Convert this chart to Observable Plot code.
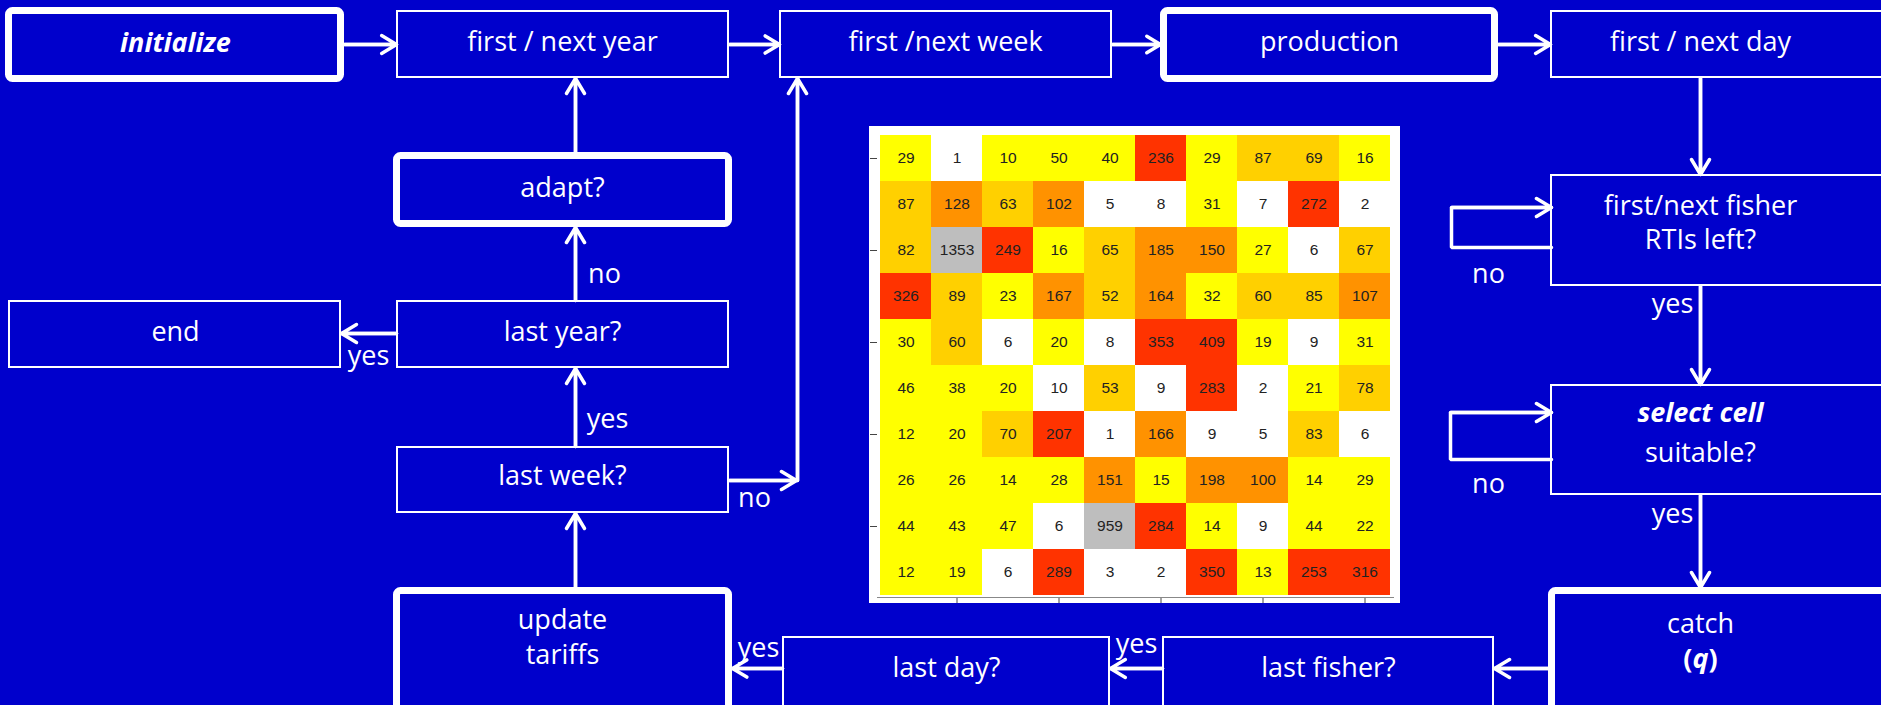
<!DOCTYPE html>
<html><head><meta charset="utf-8">
<script src="https://cdn.jsdelivr.net/npm/d3@7"></script>
<script src="https://cdn.jsdelivr.net/npm/@observablehq/plot@0.6"></script>
<style>
html,body{margin:0;padding:0;background:#0000CC;}
#wrap{position:relative;width:1881px;height:705px;overflow:hidden;background:#0000CC;}
#wrap > svg, #wrap > figure{position:absolute;margin:0;}
</style></head><body><div id="wrap"></div>
<script>
const W = 1881, H = 705;

// ---------- heatmap data (rows top to bottom) ----------
const gridValues = [
  [29, 1, 10, 50, 40, 236, 29, 87, 69, 16],
  [87, 128, 63, 102, 5, 8, 31, 7, 272, 2],
  [82, 1353, 249, 16, 65, 185, 150, 27, 6, 67],
  [326, 89, 23, 167, 52, 164, 32, 60, 85, 107],
  [30, 60, 6, 20, 8, 353, 409, 19, 9, 31],
  [46, 38, 20, 10, 53, 9, 283, 2, 21, 78],
  [12, 20, 70, 207, 1, 166, 9, 5, 83, 6],
  [26, 26, 14, 28, 151, 15, 198, 100, 14, 29],
  [44, 43, 47, 6, 959, 284, 14, 9, 44, 22],
  [12, 19, 6, 289, 3, 2, 350, 13, 253, 316]
];
// colour class of each cell
const gridBins = [
  "YWYYYRYGGY",
  "GOGOWWYWRW",
  "GXRYGOOYWG",
  "RGYOGOYGGO",
  "YGWYWRRYWY",
  "YYYWGWRWYG",
  "YYGRWOWWGW",
  "YYYYOYOOYY",
  "YYYWXRYWYY",
  "YYWRWWRYRR"
];
const binOrder = ["W", "Y", "G", "O", "R", "X"];
const binColors = ["#FFFFFF", "#FFFF00", "#FFD000", "#FF9200", "#FF3300", "#BEBEBE"];
const xTickCols = [2, 4, 6, 8, 10];
const yTickRows = [1, 3, 5, 7, 9];

// ---------- flowchart ----------
const nodes = [
  {lines: [{t: "initialize", bi: true}], x1: 5, x2: 344, y1: 7, y2: 82, thick: true, cx: 175, cy: [43]},
  {lines: [{t: "first / next year"}], x1: 396, x2: 729, y1: 10, y2: 78, cx: 562, cy: [42]},
  {lines: [{t: "first /next week"}], x1: 779, x2: 1112, y1: 10, y2: 78, cx: 945, cy: [42]},
  {lines: [{t: "production"}], x1: 1160, x2: 1498, y1: 7, y2: 82, thick: true, cx: 1329, cy: [42]},
  {lines: [{t: "first / next day"}], x1: 1550, x2: 1900, y1: 10, y2: 78, cx: 1700, cy: [42]},
  {lines: [{t: "adapt?"}], x1: 393, x2: 732, y1: 152, y2: 227, thick: true, cx: 562, cy: [188]},
  {lines: [{t: "end"}], x1: 8, x2: 341, y1: 300, y2: 368, cx: 175, cy: [332]},
  {lines: [{t: "last year?"}], x1: 396, x2: 729, y1: 300, y2: 368, cx: 562, cy: [332]},
  {lines: [{t: "last week?"}], x1: 396, x2: 729, y1: 446, y2: 513, cx: 562, cy: [476]},
  {lines: [{t: "update"}, {t: "tariffs"}], x1: 393, x2: 732, y1: 587, y2: 730, thick: true, cx: 562, cy: [620, 655]},
  {lines: [{t: "last day?"}], x1: 782, x2: 1110, y1: 636, y2: 730, cx: 946, cy: [668]},
  {lines: [{t: "last fisher?"}], x1: 1162, x2: 1494, y1: 636, y2: 730, cx: 1328, cy: [668]},
  {lines: [{t: "catch"}, {t: "(q)"}], x1: 1548, x2: 1900, y1: 587, y2: 730, thick: true, cx: 1700, cy: [624, 659]},
  {lines: [{t: "first/next fisher"}, {t: "RTIs left?"}], x1: 1550, x2: 1900, y1: 174, y2: 286, cx: 1700, cy: [206, 240]},
  {lines: [{t: "select cell", bi: true}, {t: "suitable?"}], x1: 1550, x2: 1900, y1: 384, y2: 495, cx: 1700, cy: [413, 453]}
];

const edges = [
  [[344, 44], [396, 44]],
  [[729, 44], [779, 44]],
  [[1112, 44], [1160, 44]],
  [[1498, 44], [1550, 44]],
  [[1700, 78], [1700, 174]],
  [[1700, 286], [1700, 384]],
  [[1700, 495], [1700, 587]],
  [[1548, 668], [1494, 668]],
  [[1162, 668], [1110, 668]],
  [[782, 668], [732, 668]],
  [[575, 587], [575, 513]],
  [[575, 446], [575, 368]],
  [[575, 300], [575, 227]],
  [[575, 152], [575, 78]],
  [[396, 333], [341, 333]],
  [[729, 480], [796, 480]],
  [[797, 480], [797, 78]],
  [[1551, 247], [1451, 247], [1451, 207], [1551, 207]],
  [[1551, 459], [1450, 459], [1450, 412], [1551, 412]]
];

const edgeLabels = [
  {t: "no", x: 604, y: 274},
  {t: "yes", x: 368, y: 356},
  {t: "yes", x: 607, y: 419},
  {t: "no", x: 754, y: 498},
  {t: "no", x: 1488, y: 274},
  {t: "yes", x: 1672, y: 304},
  {t: "no", x: 1488, y: 484},
  {t: "yes", x: 1672, y: 514},
  {t: "yes", x: 758, y: 648},
  {t: "yes", x: 1136, y: 644}
];

// derived tables
const nodeLines = nodes.flatMap(n => n.lines.map((l, i) => ({t: l.t, bi: !!l.bi, x: n.cx, y: n.cy[i]})));
const edgePts = edges.flatMap((e, k) => e.map(p => ({k, x: p[0], y: p[1]})));
const edgeHeads = edges.map((e, k) => {
  const a = e[e.length - 2], b = e[e.length - 1];
  return {k, x1: a[0], y1: a[1], x2: b[0], y2: b[1]};
});

const FONT = "'Open Sans', 'Noto Sans', sans-serif";

const main = Plot.plot({
  width: W, height: H,
  margin: 0,
  x: {domain: [0, W], range: [0, W], axis: null},
  y: {domain: [0, H], range: [0, H], axis: null},
  style: {background: "#0000CC", fontFamily: FONT, color: "white", overflow: "hidden"},
  marks: [
    Plot.rect(nodes.filter(n => !n.thick), {x1: "x1", x2: "x2", y1: "y1", y2: "y2", fill: "none", stroke: "white", strokeWidth: 2, inset: 1}),
    Plot.rect(nodes.filter(n => n.thick), {x1: "x1", x2: "x2", y1: "y1", y2: "y2", fill: "none", stroke: "white", strokeWidth: 7, inset: 3.5, rx: 4}),
    Plot.line(edgePts, {x: "x", y: "y", z: "k", stroke: "white", strokeWidth: 3.5, strokeLinejoin: "miter", curve: "linear"}),
    Plot.arrow(edgeHeads, {x1: "x1", y1: "y1", x2: "x2", y2: "y2", stroke: "white", strokeWidth: 3.5, headLength: 7.5, headAngle: 62, strokeLinejoin: "miter"}),
    Plot.text(nodeLines.filter(d => !d.bi), {x: "x", y: "y", text: "t", fill: "white", fontSize: 27}),
    Plot.text(nodeLines.filter(d => d.bi), {x: "x", y: "y", text: "t", fill: "white", fontSize: 27, fontWeight: "bold", fontStyle: "italic"}),
    Plot.text(edgeLabels, {x: "x", y: "y", text: "t", fill: "white", fontSize: 27})
  ]
});
main.style.left = "0px"; main.style.top = "0px";
document.getElementById("wrap").appendChild(main);

// "(q)" : bold parentheses with bold italic q
d3.select(main).selectAll("text").each(function () {
  if (this.textContent === "(q)") {
    const s = d3.select(this);
    s.text(null).attr("font-weight", "bold");
    s.append("tspan").text("(");
    s.append("tspan").attr("font-style", "italic").text("q");
    s.append("tspan").text(")");
  }
});

// heatmap
const cells = gridValues.flatMap((row, r) => row.map((v, c) => ({row: r + 1, col: c + 1, v, bin: gridBins[r][c]})));
const heat = Plot.plot({
  width: 531, height: 477,
  marginLeft: 8, marginTop: 7, marginRight: 7, marginBottom: 6,
  style: {background: "white", fontFamily: "'Liberation Sans', Arial, sans-serif", color: "#444"},
  x: {type: "band", domain: d3.range(1, 11), padding: 0, axis: null},
  y: {type: "band", domain: d3.range(1, 11), padding: 0, axis: null},
  color: {type: "ordinal", domain: binOrder, range: binColors},
  marks: [
    Plot.cell(cells, {x: "col", y: "row", fill: "bin"}),
    Plot.text(cells, {x: "col", y: "row", text: d => String(d.v), fontSize: 15.5, fill: "#222"}),
    Plot.axisX(xTickCols, {anchor: "bottom", tickSize: 6, tickFormat: () => "", label: null, stroke: "#444"}),
    Plot.axisY(yTickRows, {anchor: "left", tickSize: 7, tickFormat: () => "", label: null, stroke: "#444"}),
    Plot.frame({anchor: "bottom", stroke: "#888"})
  ]
});
heat.style.left = "869px"; heat.style.top = "126px";
document.getElementById("wrap").appendChild(heat);
</script>
</body></html>
